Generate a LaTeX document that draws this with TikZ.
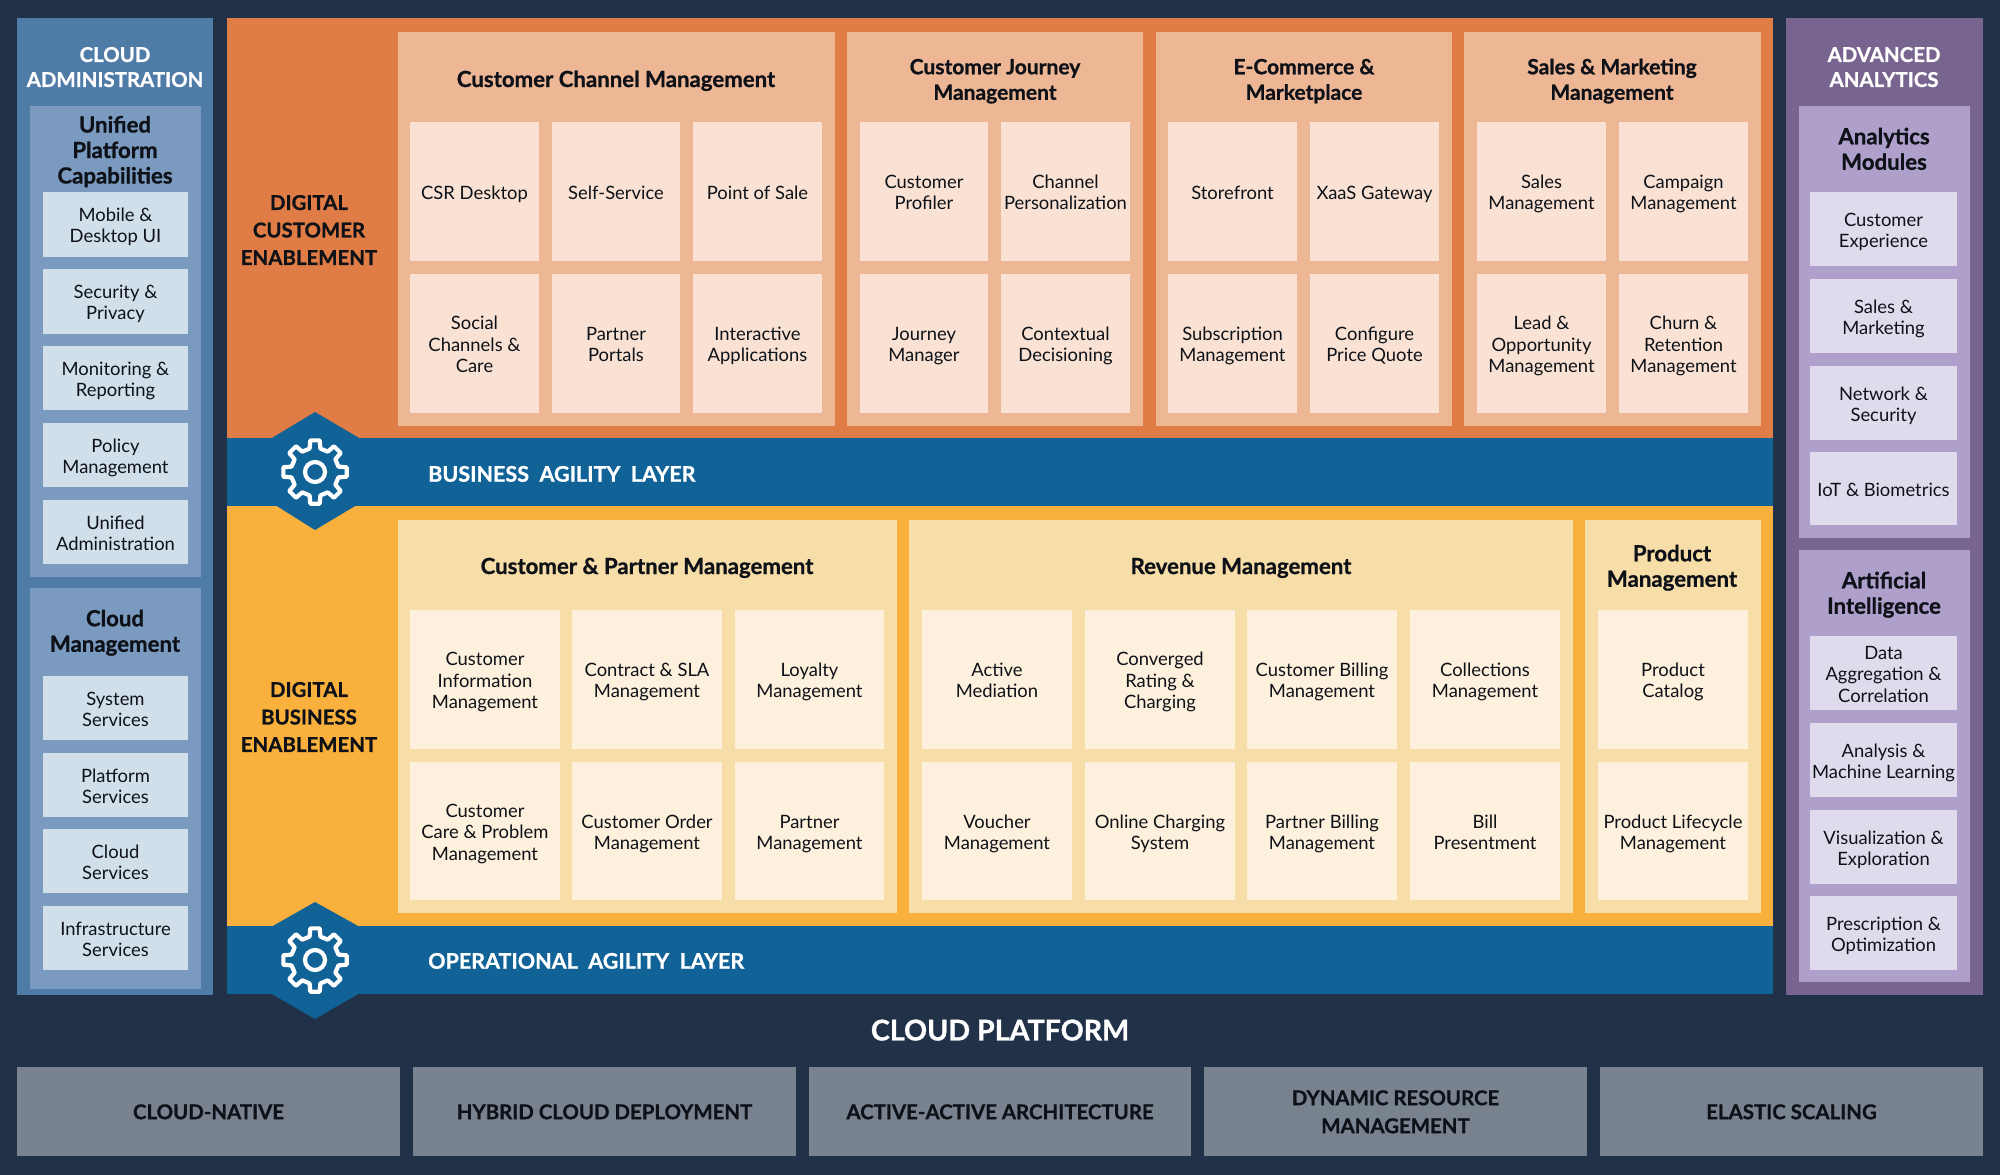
\documentclass[tikz,border=0pt]{standalone}
\usepackage{fontspec}
\setmainfont{Lato}[BoldFeatures={FakeBold=0.9}]
\definecolor{bgc}{HTML}{213148}
\definecolor{bluep}{HTML}{4F7BA7}
\definecolor{blues}{HTML}{7A9ABF}
\definecolor{blueb}{HTML}{D1DFEB}
\definecolor{orp}{HTML}{E07C45}
\definecolor{ors}{HTML}{EDB795}
\definecolor{orb}{HTML}{F9E2D3}
\definecolor{yep}{HTML}{F9B03C}
\definecolor{yes}{HTML}{F7DDA7}
\definecolor{yeb}{HTML}{FDF0DC}
\definecolor{band}{HTML}{106297}
\definecolor{pup}{HTML}{77648F}
\definecolor{pus}{HTML}{AE9FCB}
\definecolor{pub}{HTML}{DFDBEC}
\definecolor{gry}{HTML}{79838F}
\definecolor{ink}{HTML}{0E1218}
\newcommand\bodytop{\vrule width 0pt height 21.9pt depth 0pt\relax}
\newcommand\bodybot{\vrule width 0pt height 0pt depth 6.5pt\relax}
\newcommand\headtop{\vrule width 0pt height 22pt depth 0pt\relax}
\newcommand\headbot{\vrule width 0pt height 0pt depth 6pt\relax}
\newcommand\capstrut{\vrule width 0pt height 19.4pt depth 2pt\relax}
\tikzset{
 rb/.style={inner sep=0pt,outer sep=0pt,align=center,text=ink,font=\fontsize{18.4}{21.3}\selectfont},
 panelL/.style={rb,fill=bluep}, subL/.style={rb,fill=blues}, boxL/.style={rb,fill=blueb},
 panelO/.style={rb,fill=orp}, subO/.style={rb,fill=ors}, boxO/.style={rb,fill=orb},
 panelY/.style={rb,fill=yep}, subY/.style={rb,fill=yes}, boxY/.style={rb,fill=yeb},
 panelP/.style={rb,fill=pup}, subP/.style={rb,fill=pus}, boxP/.style={rb,fill=pub},
 bandb/.style={rb,fill=band},
 greyb/.style={rb,fill=gry,font=\fontsize{20.4}{28}\selectfont\bfseries},
 txtb/.style={inner sep=0pt,align=center,execute at begin node=\capstrut,execute at end node=\capstrut},
 sect/.style={txtb,text=white,font=\fontsize{20.4}{25}\selectfont\bfseries},
 enab/.style={txtb,text=ink,font=\fontsize{20.4}{27.5}\selectfont\bfseries},
 layer/.style={txtb,anchor=west,text=white,font=\fontsize{21.5}{25}\selectfont\bfseries},
 plat/.style={txtb,text=white,font=\fontsize{28.6}{32}\selectfont\bfseries},
 head/.style={inner sep=0pt,align=center,text=ink,font=\fontsize{22.2}{25.5}\selectfont\bfseries},
 heads/.style={head,font=\fontsize{21}{25.5}\selectfont\bfseries},
 hexa/.style={fill=band},
 gearline/.style={draw=white,line width=4.2pt,line join=round}
}
\newcommand\rbox[7]{\pgfmathsetmacro\bw{#5-#3}\pgfmathsetmacro\bh{#6-#4}\node[#1,minimum width=\bw pt,minimum height=\bh pt] (#2) at ({(#3+#5)/2},{(#4+#6)/2}) {\bodytop #7\bodybot};}
\newcommand\hnode[5]{\node[#1] (#2) at (#3,#4) {\headtop #5\headbot};}
\newcommand\gearicon[2]{%
 \begin{scope}[shift={(#1,#2)}]
  \draw[gearline] (-13:24) \foreach \a in {0,45,...,315}{ -- (\a-13:24) -- (\a-8.5:32) -- (\a+8.5:32) -- (\a+13:24)} -- cycle;
  \draw[gearline] (0,0) circle[radius=10];
 \end{scope}}
\begin{document}
\begin{tikzpicture}[x=1pt,y=-1pt]
\fill[bgc] (0,0) rectangle (2000,1175);
\useasboundingbox (0,0) rectangle (2000,1175);
% main panels
\rbox{panelL}{pl}{17}{18}{213}{995}{}
\rbox{panelO}{po}{226.5}{18}{1773}{438}{}
\rbox{panelY}{py}{226.5}{506}{1773}{926}{}
\rbox{panelP}{pp}{1786}{18}{1983}{995}{}
% hexagons
\rbox{bandb}{b1}{226.5}{438}{1773}{506}{}
\rbox{bandb}{b2}{226.5}{926}{1773}{994}{}
\fill[hexa] (315,412) -- (360,438.5) -- (271,438.5) -- cycle;
\fill[hexa] (276,505.5) -- (356,505.5) -- (315,530) -- cycle;
\fill[hexa] (315,902) -- (359,926.5) -- (272,926.5) -- cycle;
\fill[hexa] (271,993.5) -- (359,993.5) -- (315,1019) -- cycle;
\gearicon{315}{472}
\gearicon{315}{960}
\node[layer] (lb) at (428,473) {BUSINESS\ \ AGILITY\ \ LAYER};
\node[layer] (lo) at (428,960) {OPERATIONAL\ \ AGILITY\ \ LAYER};
\node[enab] (en1) at (309,231) {DIGITAL\\CUSTOMER\\ENABLEMENT};
\node[enab] (en2) at (309,718) {DIGITAL\\BUSINESS\\ENABLEMENT};
% left column
\node[sect] (tl) at (115,68) {CLOUD\\ADMINISTRATION};
\rbox{subL}{sl1}{30}{106}{201}{577}{}
\rbox{subL}{sl2}{30}{588}{201}{989}{}
\hnode{head}{hl1}{115}{150}{Unified\\Platform\\Capabilities}
\hnode{head}{hl2}{115}{631}{Cloud\\Management}
\rbox{boxL}{l1}{43}{192}{188}{257}{Mobile \&\\Desktop UI}
\rbox{boxL}{l2}{43}{269}{188}{334}{Security \&\\Privacy}
\rbox{boxL}{l3}{43}{346}{188}{410}{Monitoring \&\\Reporting}
\rbox{boxL}{l4}{43}{423}{188}{487}{Policy\\Management}
\rbox{boxL}{l5}{43}{500}{188}{564}{Unified\\Administration}
\rbox{boxL}{l6}{43}{676}{188}{740}{System\\Services}
\rbox{boxL}{l7}{43}{753}{188}{817}{Platform\\Services}
\rbox{boxL}{l8}{43}{829}{188}{893}{Cloud\\Services}
\rbox{boxL}{l9}{43}{906}{188}{970}{Infrastructure\\Services}
% right column
\node[sect] (tr) at (1884,68) {ADVANCED\\ANALYTICS};
\rbox{subP}{sr1}{1799}{106}{1970}{538}{}
\rbox{subP}{sr2}{1799}{550}{1970}{982}{}
\hnode{head}{hr1}{1884}{149}{Analytics\\Modules}
\hnode{head}{hr2}{1884}{593}{Artificial\\Intelligence}
\rbox{boxP}{r1}{1810}{192}{1957}{266}{Customer\\Experience}
\rbox{boxP}{r2}{1810}{279}{1957}{353}{Sales \&\\Marketing}
\rbox{boxP}{r3}{1810}{366}{1957}{440}{Network \&\\Security}
\rbox{boxP}{r4}{1810}{452}{1957}{525}{IoT \& Biometrics}
\rbox{boxP}{r5}{1810}{636}{1957}{710}{Data\\Aggregation \&\\Correlation}
\rbox{boxP}{r6}{1810}{723}{1957}{797}{Analysis \&\\Machine Learning}
\rbox{boxP}{r7}{1810}{810}{1957}{884}{Visualization \&\\Exploration}
\rbox{boxP}{r8}{1810}{896}{1957}{970}{Prescription \&\\Optimization}
% orange groups
\rbox{subO}{so1}{398}{32}{835}{426}{}
\rbox{subO}{so2}{847}{32}{1143}{426}{}
\rbox{subO}{so3}{1156}{32}{1452}{426}{}
\rbox{subO}{so4}{1464}{32}{1761}{426}{}
\hnode{head}{ho1}{616}{79}{Customer Channel Management}
\hnode{heads}{ho2}{995}{79}{Customer Journey\\Management}
\hnode{heads}{ho3}{1304}{79}{E-Commerce \&\\Marketplace}
\hnode{heads}{ho4}{1612}{79}{Sales \& Marketing\\Management}
\rbox{boxO}{o1}{410}{122}{539}{261}{CSR Desktop}
\rbox{boxO}{o2}{552}{122}{680}{261}{Self-Service}
\rbox{boxO}{o3}{693}{122}{822}{261}{Point of Sale}
\rbox{boxO}{o4}{410}{274}{539}{413}{Social\\Channels \&\\Care}
\rbox{boxO}{o5}{552}{274}{680}{413}{Partner\\Portals}
\rbox{boxO}{o6}{693}{274}{822}{413}{Interactive\\Applications}
\rbox{boxO}{o7}{860}{122}{988}{261}{Customer\\Profiler}
\rbox{boxO}{o8}{1001}{122}{1130}{261}{Channel\\Personalization}
\rbox{boxO}{o9}{860}{274}{988}{413}{Journey\\Manager}
\rbox{boxO}{o10}{1001}{274}{1130}{413}{Contextual\\Decisioning}
\rbox{boxO}{o11}{1168}{122}{1297}{261}{Storefront}
\rbox{boxO}{o12}{1310}{122}{1439}{261}{XaaS Gateway}
\rbox{boxO}{o13}{1168}{274}{1297}{413}{Subscription\\Management}
\rbox{boxO}{o14}{1310}{274}{1439}{413}{Configure\\Price Quote}
\rbox{boxO}{o15}{1477}{122}{1606}{261}{Sales\\Management}
\rbox{boxO}{o16}{1619}{122}{1748}{261}{Campaign\\Management}
\rbox{boxO}{o17}{1477}{274}{1606}{413}{Lead \&\\Opportunity\\Management}
\rbox{boxO}{o18}{1619}{274}{1748}{413}{Churn \&\\Retention\\Management}
% yellow groups
\rbox{subY}{sy1}{398}{520}{897}{913}{}
\rbox{subY}{sy2}{909}{520}{1573}{913}{}
\rbox{subY}{sy3}{1585}{520}{1761}{913}{}
\hnode{head}{hy1}{647}{566}{Customer \& Partner Management}
\hnode{head}{hy2}{1241}{566}{Revenue Management}
\hnode{head}{hy3}{1672}{566}{Product\\Management}
\rbox{boxY}{y1}{410}{610}{560}{749}{Customer\\Information\\Management}
\rbox{boxY}{y2}{572}{610}{722}{749}{Contract \& SLA\\Management}
\rbox{boxY}{y3}{735}{610}{884}{749}{Loyalty\\Management}
\rbox{boxY}{y4}{410}{762}{560}{900}{Customer\\Care \& Problem\\Management}
\rbox{boxY}{y5}{572}{762}{722}{900}{Customer Order\\Management}
\rbox{boxY}{y6}{735}{762}{884}{900}{Partner\\Management}
\rbox{boxY}{y7}{922}{610}{1072}{749}{Active\\Mediation}
\rbox{boxY}{y8}{1085}{610}{1235}{749}{Converged\\Rating \&\\Charging}
\rbox{boxY}{y9}{1247}{610}{1397}{749}{Customer Billing\\Management}
\rbox{boxY}{y10}{1410}{610}{1560}{749}{Collections\\Management}
\rbox{boxY}{y11}{922}{762}{1072}{900}{Voucher\\Management}
\rbox{boxY}{y12}{1085}{762}{1235}{900}{Online Charging\\System}
\rbox{boxY}{y13}{1247}{762}{1397}{900}{Partner Billing\\Management}
\rbox{boxY}{y14}{1410}{762}{1560}{900}{Bill\\Presentment}
\rbox{boxY}{y15}{1598}{610}{1748}{749}{Product\\Catalog}
\rbox{boxY}{y16}{1598}{762}{1748}{900}{Product Lifecycle\\Management}
% platform
\node[plat] (cp) at (1000,1031) {CLOUD PLATFORM};
\rbox{greyb}{g1}{17}{1067}{400}{1156}{CLOUD-NATIVE}
\rbox{greyb}{g2}{413}{1067}{796}{1156}{HYBRID CLOUD DEPLOYMENT}
\rbox{greyb}{g3}{809}{1067}{1191}{1156}{ACTIVE-ACTIVE ARCHITECTURE}
\rbox{greyb}{g4}{1204}{1067}{1587}{1156}{DYNAMIC RESOURCE\\MANAGEMENT}
\rbox{greyb}{g5}{1600}{1067}{1983}{1156}{ELASTIC SCALING}
\end{tikzpicture}
\end{document}
